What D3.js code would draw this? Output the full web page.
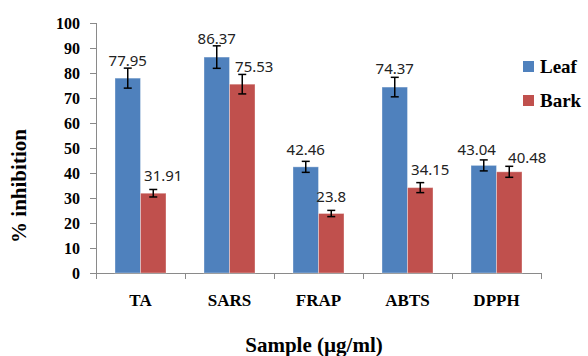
<!DOCTYPE html>
<html><head><meta charset="utf-8">
<script src="https://cdn.jsdelivr.net/npm/d3@7"></script>
<style>body{margin:0;background:#fff}svg{display:block}</style>
</head><body>
<svg id="c" width="588" height="356"></svg>
<script>
const categories = ["TA","SARS","FRAP","ABTS","DPPH"];
const seriesNames = ["Leaf","Bark"];
const leafValues = [77.95, 86.37, 42.46, 74.37, 43.04];
const barkValues = [31.91, 75.53, 23.8, 34.15, 40.48];
const leafErrors = [4, 4.5, 2.2, 3.9, 2.2];
const barkErrors = [1.5, 3.9, 1.25, 2, 2.2];
const yTicks = [0,10,20,30,40,50,60,70,80,90,100];
const colors = {Leaf:"#4F81BD", Bark:"#C0504D"};
// label nudges (layout, not data)
const labelDx = {Leaf:[0,0,0,0,-7], Bark:[10,12,0,10,18]};
const labelDy = {Leaf:[-12,-13,-12,-13,-10], Bark:[-12,-12.5,-12,-12.5,-8.5]};

const values = {Leaf:leafValues, Bark:barkValues};
const errors = {Leaf:leafErrors, Bark:barkErrors};

const svg = d3.select("#c");
const x0 = d3.scaleBand().domain(categories).range([96,541]).padding(0);
const x1 = d3.scaleBand().domain(seriesNames).range([0,x0.bandwidth()]).paddingInner(0).paddingOuter(0.745);
const y = d3.scaleLinear().domain([0,100]).range([273,23]);
const axisColor = "#8a8a8a";

// y axis
const yAxis = svg.append("g").attr("transform","translate(96,0)")
  .call(d3.axisLeft(y).tickValues(yTicks).tickSize(6).tickPadding(10).tickFormat(d3.format("d")));
yAxis.select(".domain").attr("stroke",axisColor).attr("d","M0.5,23V273.5");
yAxis.selectAll(".tick line").attr("stroke",axisColor);
yAxis.selectAll("text").attr("font-family","'Liberation Serif','Times New Roman',serif")
  .attr("font-weight","bold").attr("font-size",16).attr("fill","#000").attr("dy","0.33em");

// x axis
const xAxis = svg.append("g").attr("transform","translate(0,273)")
  .call(d3.axisBottom(x0).tickSize(0).tickPadding(0));
xAxis.select(".domain").attr("stroke",axisColor).attr("d","M90,0.5H541");
xAxis.selectAll(".tick text").attr("font-family","'Liberation Serif','Times New Roman',serif")
  .attr("font-weight","bold").attr("font-size",17).attr("fill","#000").attr("y",33).attr("dy",0);
const bounds = categories.map(c=>x0(c)).concat([x0.range()[1]]);
xAxis.selectAll(".bt").data(bounds).enter().append("line")
  .attr("x1",d=>Math.round(d)+0.5).attr("x2",d=>Math.round(d)+0.5).attr("y1",0).attr("y2",6)
  .attr("stroke",axisColor);

// bars
const groups = svg.append("g").selectAll("g").data(categories).enter().append("g")
  .attr("transform",d=>`translate(${x0(d)},0)`);
seriesNames.forEach(s=>{
  groups.append("rect")
    .attr("x",(d)=>x1(s))
    .attr("width",x1.bandwidth())
    .attr("y",(d,i)=>y(values[s][i]))
    .attr("height",(d,i)=>y(0)-y(values[s][i]))
    .attr("fill",colors[s])
    .attr("stroke","rgba(255,255,255,0.35)").attr("stroke-width",1);
});
// error bars
seriesNames.forEach(s=>{
  const cx = x1(s)+x1.bandwidth()/2;
  groups.each(function(d,i){
    const g = d3.select(this);
    const v = values[s][i], e = errors[s][i];
    const top = y(v+e), bot = y(v-e);
    g.append("line").attr("x1",cx).attr("x2",cx).attr("y1",top).attr("y2",bot).attr("stroke","#000").attr("stroke-width",1.5);
    g.append("line").attr("x1",cx-4).attr("x2",cx+4).attr("y1",top).attr("y2",top).attr("stroke","#000").attr("stroke-width",1.5);
    g.append("line").attr("x1",cx-4).attr("x2",cx+4).attr("y1",bot).attr("y2",bot).attr("stroke","#000").attr("stroke-width",1.5);
    g.append("text").attr("x",cx+labelDx[s][i]).attr("y",y(v)+labelDy[s][i])
      .attr("text-anchor","middle").attr("font-family","'Noto Sans',sans-serif").attr("font-size",15)
      .attr("fill","#222").text(String(v));
  });
});

// axis titles
svg.append("text").attr("transform","translate(26,186) rotate(-90)").attr("text-anchor","middle")
  .attr("font-family","'Liberation Serif','Times New Roman',serif").attr("font-weight","bold").attr("font-size",21)
  .text("% inhibition");
svg.append("text").attr("x",314).attr("y",352).attr("text-anchor","middle")
  .attr("font-family","'Liberation Serif','Times New Roman',serif").attr("font-weight","bold").attr("font-size",21)
  .text("Sample (µg/ml)");

// legend
const leg = svg.append("g");
seriesNames.forEach((s,i)=>{
  leg.append("rect").attr("x",523).attr("y",61+i*34).attr("width",11).attr("height",11).attr("fill",colors[s]);
  leg.append("text").attr("x",540).attr("y",73+i*34).attr("font-family","'Liberation Serif','Times New Roman',serif")
    .attr("font-weight","bold").attr("font-size",19).text(s);
});
</script>
</body></html>
